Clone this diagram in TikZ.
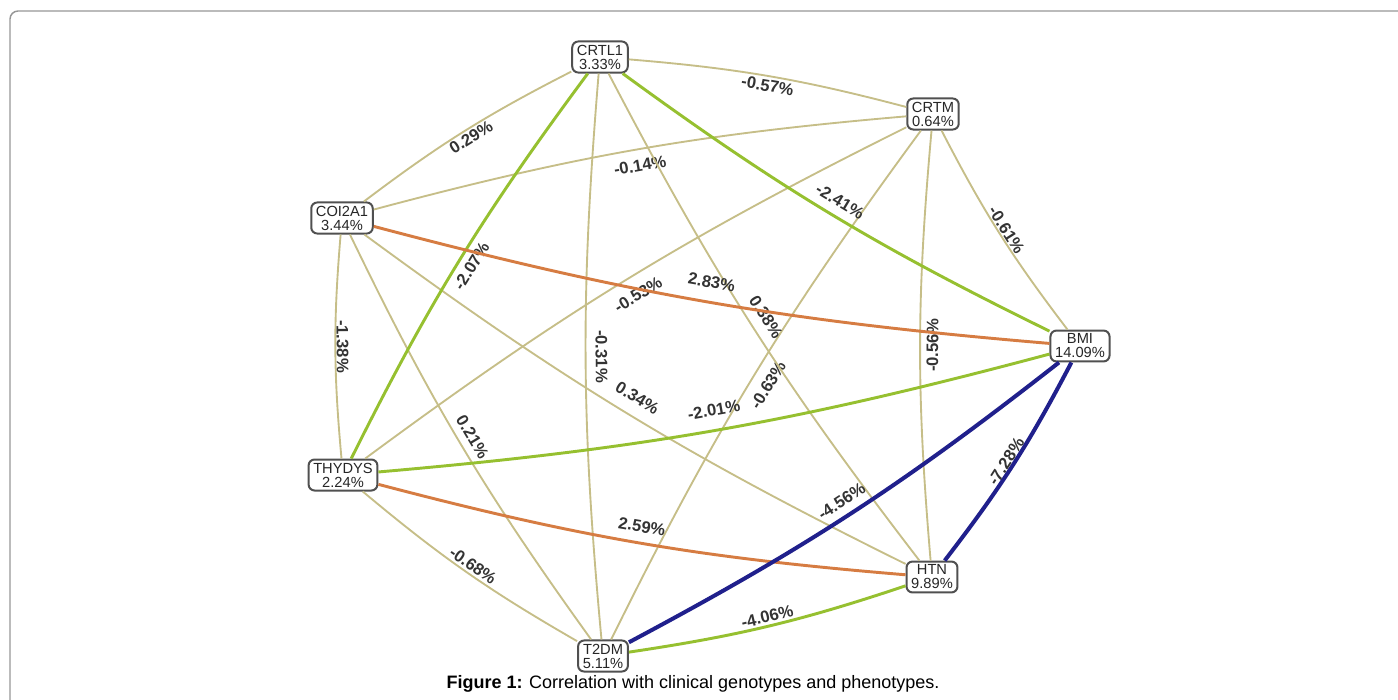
\documentclass[tikz,border=0pt]{standalone}
\usepackage{fontspec}
\setmainfont{Liberation Sans}

\definecolor{weakline}{RGB}{198,190,136}
\definecolor{posline}{RGB}{214,124,66}
\definecolor{negline}{RGB}{150,192,48}
\definecolor{strongline}{RGB}{32,32,140}
\definecolor{boxline}{RGB}{80,80,80}
\definecolor{frameline}{RGB}{150,150,150}

\begin{document}
\begin{tikzpicture}[x=0.75pt,y=-0.75pt,
    var/.style={draw=boxline, line width=1.5pt, rounded corners=4.5pt, fill=white,
      align=center, font=\fontsize{11}{10.5}\selectfont, text=black!85,
      inner xsep=3.5pt, inner ysep=2.5pt},
    lbl/.style={sloped, font=\fontsize{12.5}{13}\bfseries\selectfont, text=black!80, inner sep=0pt},
    weak/.style={draw=weakline, line width=1.4pt},
    negmid/.style={draw=negline, line width=2.2pt},
    posmid/.style={draw=posline, line width=2.2pt},
    negstrong/.style={draw=strongline, line width=3pt}]

    \useasboundingbox (0,0) rectangle (1398,699);
    \draw [frameline, line width=1.1pt, rounded corners=6pt] (1410,11) -- (10,11) -- (10,710);

    % variables on the circle
    \node [var] (CRTM)   at (933,114) {CRTM\\0.64\%};
    \node [var] (CRTL1)  at (600,57)  {CRTL1\\3.33\%};
    \node [var] (COI2A1) at (342,218) {COI2A1\\3.44\%};
    \node [var] (THYDYS) at (343,475) {THYDYS\\2.24\%};
    \node [var] (T2DM)   at (603,656) {T2DM\\5.11\%};
    \node [var] (HTN)    at (932,577) {HTN\\9.89\%};
    \node [var] (BMI)    at (1080,346) {BMI\\14.09\%};

    % correlations
    \foreach \a/\b/\v in {CRTM/CRTL1/-0.57, CRTM/COI2A1/-0.14, CRTM/THYDYS/-0.53,
        CRTM/T2DM/-0.63, CRTM/HTN/-0.56, CRTM/BMI/-0.61, CRTL1/COI2A1/0.29,
        CRTL1/T2DM/-0.31, CRTL1/HTN/0.38, COI2A1/THYDYS/-1.38, COI2A1/T2DM/0.21,
        COI2A1/HTN/0.34, THYDYS/T2DM/-0.68}{
      \draw [weak] (\a) to [bend right=5] (\b);
      \path (\a) -- node [lbl] {\v\%} (\b);
    }
    \foreach \a/\b/\v in {CRTL1/THYDYS/-2.07, CRTL1/BMI/-2.41, THYDYS/BMI/-2.01, T2DM/HTN/-4.06}{
      \draw [negmid] (\a) to [bend right=5] (\b);
      \path (\a) -- node [lbl] {\v\%} (\b);
    }
    \foreach \a/\b/\v in {COI2A1/BMI/2.83, THYDYS/HTN/2.59}{
      \draw [posmid] (\a) to [bend right=5] (\b);
      \path (\a) -- node [lbl] {\v\%} (\b);
    }
    \foreach \a/\b/\v in {T2DM/BMI/-4.56, HTN/BMI/-7.28}{
      \draw [negstrong] (\a) to [bend right=5] (\b);
      \path (\a) -- node [lbl] {\v\%} (\b);
    }

    \node [font=\fontsize{13.5}{14}\selectfont] (cap) at (693,684)
      {\textbf{Figure 1:} Correlation with clinical genotypes and phenotypes.};
\end{tikzpicture}
\end{document}
